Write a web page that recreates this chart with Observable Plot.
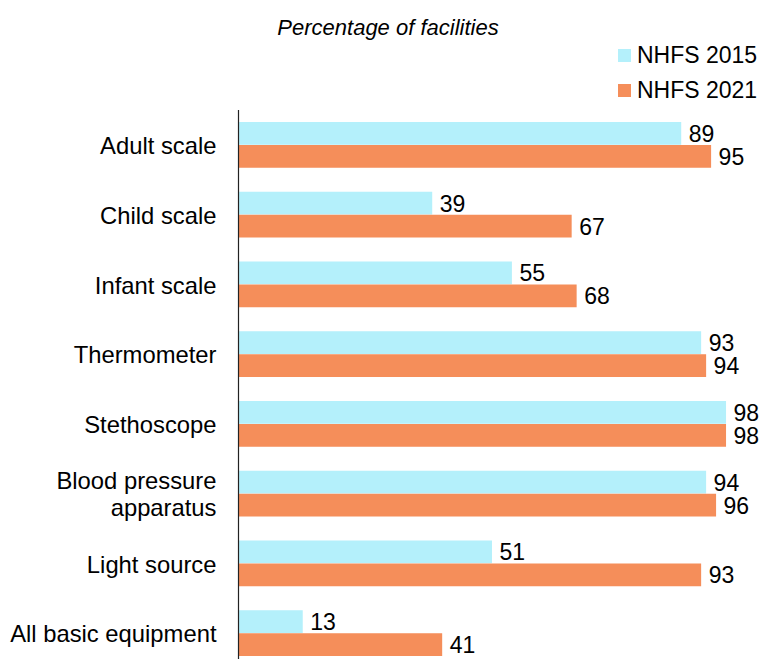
<!DOCTYPE html>
<html>
<head>
<meta charset="utf-8">
<script src="https://cdn.jsdelivr.net/npm/d3@7"></script>
<script src="https://cdn.jsdelivr.net/npm/@observablehq/plot@0.6"></script>
<style>
  html, body { margin: 0; padding: 0; background: #fff; overflow: hidden; }
  body { font-family: "Liberation Sans", Arial, sans-serif; }
  #wrap { position: relative; width: 762px; height: 659px; }
  #title { position: absolute; left: 0; width: 776px; top: 14px; text-align: center; font-style: italic; font-size: 22px; line-height: 28px; color: #000; }
  .leg { position: absolute; left: 618px; font-size: 23px; line-height: 28px; color: #000; display: flex; align-items: center; }
  .sw { width: 13px; height: 13px; margin-right: 6px; }
  #chart { position: absolute; left: 0; top: 0; }
</style>
</head>
<body>
<div id="wrap">
  <div id="chart"></div>
  <div id="title">Percentage of facilities</div>
  <div class="leg" style="top:41px"><div class="sw" style="background:#B4F0FB"></div>NHFS 2015</div>
  <div class="leg" style="top:76px"><div class="sw" style="background:#F58E5A"></div>NHFS 2021</div>
</div>
<script>
const categories = ["Adult scale", "Child scale", "Infant scale", "Thermometer", "Stethoscope", "Blood pressure apparatus", "Light source", "All basic equipment"];
const labels = ["Adult scale", "Child scale", "Infant scale", "Thermometer", "Stethoscope", "Blood pressure\napparatus", "Light source", "All basic equipment"];
const nhfs2015 = [89, 39, 55, 93, 98, 94, 51, 13];
const nhfs2021 = [95, 67, 68, 94, 98, 96, 93, 41];
const colors = {"NHFS 2015": "#B4F0FB", "NHFS 2021": "#F58E5A"};

const d15 = categories.map((c, i) => ({category: c, value: nhfs2015[i]}));
const d21 = categories.map((c, i) => ({category: c, value: nhfs2021[i]}));
const labelOf = new Map(categories.map((c, i) => [c, labels[i]]));

const chart = Plot.plot({
  width: 762,
  height: 668,
  marginLeft: 238,
  marginRight: 26,
  marginTop: 110,
  marginBottom: 0,
  style: {fontFamily: "Liberation Sans, Arial, sans-serif", fontSize: "23px", color: "#000", background: "transparent"},
  x: {domain: [0, 100], axis: null},
  y: {domain: categories, paddingInner: 0.344, paddingOuter: 0.172, round: false, label: null},
  marks: [
    Plot.barX(d15, {x: "value", y: "category", fill: colors["NHFS 2015"], insetBottom: 23}),
    Plot.barX(d21, {x: "value", y: "category", fill: colors["NHFS 2021"], insetTop: 23}),
    Plot.text(d15, {x: "value", y: "category", text: d => String(d.value), dy: -11, dx: 7, textAnchor: "start", fontSize: 23, fill: "#000"}),
    Plot.text(d21, {x: "value", y: "category", text: d => String(d.value), dy: 12, dx: 7, textAnchor: "start", fontSize: 23, fill: "#000"}),
    Plot.axisY({tickSize: 0, tickPadding: 22, fontSize: 23.8, lineHeight: 1.14, tickFormat: d => labelOf.get(d), label: null, fill: "#000"}),
    Plot.ruleX([0], {stroke: "#222", strokeWidth: 1.2})
  ]
});
document.getElementById("chart").appendChild(chart);
</script>
</body>
</html>
